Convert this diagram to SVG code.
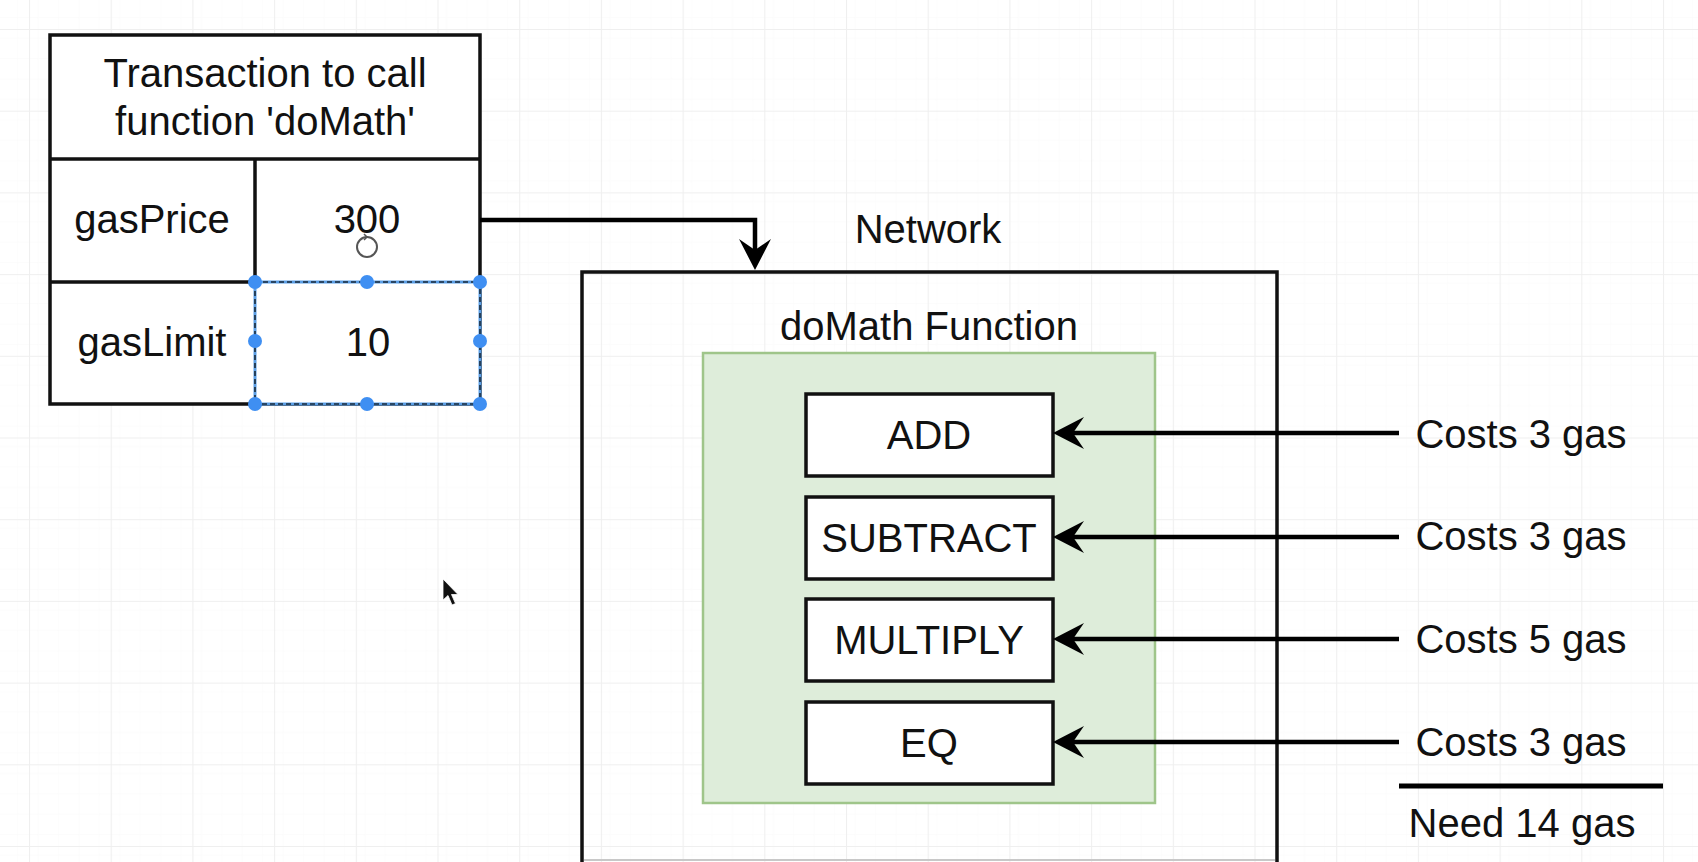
<svg xmlns="http://www.w3.org/2000/svg" width="1698" height="862" viewBox="0 0 1698 862">
<style>
  text { font-family: "Liberation Sans", Arial, Helvetica, sans-serif; font-size: 40px; fill: #111; text-anchor: middle; }
  .box { fill: #fff; stroke: #111; stroke-width: 3.5; }
  .ln { fill: none; stroke: #111; stroke-width: 3.5; }
  .conn { fill: none; stroke: #000; stroke-width: 4.5; }
  .selb { fill: none; stroke: #5a9ee6; stroke-width: 3; }
  .seld { fill: none; stroke: #1a2a3a; stroke-width: 1.6; stroke-dasharray: 5 3; }
  .dot { fill: #3f8ff2; }
</style>
<defs>
  <pattern id="gridMinor" x="29" y="29" width="20.425" height="20.425" patternUnits="userSpaceOnUse">
    <path d="M0,0 H20.425 M0,0 V20.425" fill="none" stroke="#fafafa" stroke-width="1"/>
  </pattern>
  <pattern id="grid" x="29" y="29" width="81.7" height="81.7" patternUnits="userSpaceOnUse">
    <rect width="81.7" height="81.7" fill="url(#gridMinor)"/>
    <path d="M0,0.5 H81.7 M0.5,0 V81.7" fill="none" stroke="#efefef" stroke-width="1.2"/>
  </pattern>
  <marker id="arrow" viewBox="0 0 31 32" refX="11" refY="16" markerWidth="31" markerHeight="32" markerUnits="userSpaceOnUse" orient="auto">
    <path d="M0,0 L31,16 L0,32 L11,16 Z" fill="#000"/>
  </marker>
</defs>
<rect width="1698" height="862" fill="#fff"/>
<rect width="1698" height="862" fill="url(#grid)"/>

<g id="transaction">
  <rect class="box" x="50" y="35" width="430" height="369"/>
  <line class="ln" x1="50" y1="159" x2="480" y2="159"/>
  <line class="ln" x1="255" y1="159" x2="255" y2="282"/>
  <line class="ln" x1="50" y1="282" x2="255" y2="282"/>
  <text x="265" y="87">Transaction to call</text>
  <text x="265" y="135">function 'doMath'</text>
  <text x="152" y="233">gasPrice</text>
  <text x="367" y="233">300</text>
  <text x="152" y="356">gasLimit</text>
</g>

<g id="selection">
  <rect x="255" y="282" width="225" height="122" fill="#fff"/>
  <text x="368" y="356">10</text>
  <rect class="selb" x="255" y="282" width="225" height="122"/>
  <rect class="seld" x="255" y="282" width="225" height="122"/>
  <circle class="dot" cx="255" cy="282" r="7"/>
  <circle class="dot" cx="367" cy="282" r="7"/>
  <circle class="dot" cx="480" cy="282" r="7"/>
  <circle class="dot" cx="255" cy="341" r="7"/>
  <circle class="dot" cx="480" cy="341" r="7"/>
  <circle class="dot" cx="255" cy="404" r="7"/>
  <circle class="dot" cx="367" cy="404" r="7"/>
  <circle class="dot" cx="480" cy="404" r="7"/>
</g>

<g id="network">
  <path class="ln" d="M582,862 V272 H1277 V862"/>
  <line x1="584" y1="860" x2="1275" y2="860" stroke="#c8c8c8" stroke-width="2"/>
  <text x="928" y="243">Network</text>
  <text x="929" y="340">doMath Function</text>
</g>

<g id="doMath">
  <rect x="703" y="353" width="452" height="450" fill="#deedda" stroke="#9fc58a" stroke-width="2.5"/>
</g>

<g id="op-add">
  <rect class="box" x="806" y="394" width="247" height="82"/>
  <text x="929" y="449">ADD</text>
</g>
<g id="op-subtract">
  <rect class="box" x="806" y="497" width="247" height="82"/>
  <text x="929" y="552">SUBTRACT</text>
</g>
<g id="op-multiply">
  <rect class="box" x="806" y="599" width="247" height="82"/>
  <text x="929" y="654">MULTIPLY</text>
</g>
<g id="op-eq">
  <rect class="box" x="806" y="702" width="247" height="82"/>
  <text x="929" y="757">EQ</text>
</g>

<g id="costs">
  <text x="1521" y="448">Costs 3 gas</text>
  <text x="1521" y="550">Costs 3 gas</text>
  <text x="1521" y="653">Costs 5 gas</text>
  <text x="1521" y="756">Costs 3 gas</text>
  <line x1="1399" y1="786" x2="1663" y2="786" stroke="#000" stroke-width="5"/>
  <text x="1522" y="837">Need 14 gas</text>
</g>

<g id="connectors">
  <path class="conn" d="M480,220 H755 V250" marker-end="url(#arrow)"/>
  <path class="conn" d="M1399,433 H1073" marker-end="url(#arrow)"/>
  <path class="conn" d="M1399,537 H1073" marker-end="url(#arrow)"/>
  <path class="conn" d="M1399,639 H1073" marker-end="url(#arrow)"/>
  <path class="conn" d="M1399,742 H1073" marker-end="url(#arrow)"/>
</g>

<g id="cursors">
  <circle cx="367" cy="247" r="10" fill="none" stroke="#555" stroke-width="2"/>
  <path d="M367,237 l-3,-3 M367,237 l-3,3" stroke="#555" stroke-width="1.5" fill="none"/>
  <path d="M443,579 L443,600 L448,595.5 L452,605 L455.5,603.5 L451.5,594.5 L458,594.5 Z" fill="#111" stroke="#fff" stroke-width="0.8"/>
</g>
</svg>
